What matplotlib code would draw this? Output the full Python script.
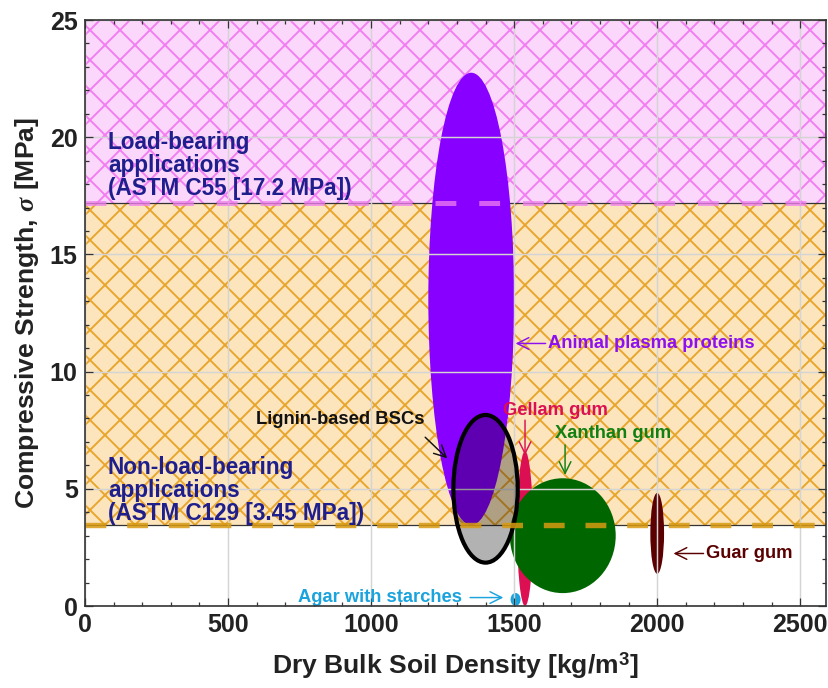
import matplotlib
matplotlib.use("Agg")
import matplotlib.pyplot as plt
from matplotlib.patches import Ellipse
from matplotlib.ticker import MultipleLocator

DPI = 180
S = 150 / DPI  # sizes below are tuned for 150 dpi

plt.rcParams['font.family'] = ['Liberation Sans', 'DejaVu Sans']
plt.rcParams['font.weight'] = 'bold'
plt.rcParams['lines.scale_dashes'] = False
plt.rcParams['hatch.linewidth'] = 0.9 * S
plt.rcParams['mathtext.fontset'] = 'custom'
plt.rcParams['mathtext.it'] = 'Liberation Serif:italic'
plt.rcParams['mathtext.rm'] = 'Liberation Sans'

# binders: centre density, centre strength, width, height
names = ['Animal plasma proteins', 'Lignin-based BSCs', 'Gellam gum',
         'Xanthan gum', 'Guar gum', 'Agar with starches']
x_center = [1350, 1400, 1538, 1670, 2000, 1505]
y_center = [13.1, 5.0, 3.3, 3.0, 3.1, 0.28]
x_width = [300, 225, 55, 370, 48, 35]
y_height = [19.3, 6.3, 6.6, 4.9, 3.45, 0.55]
colors = ['#8800FF', 'none', '#DC0F52', '#006600', '#5A0000', '#1AA3DC']

# label positions, arrow tails and arrow tips
label_xy = [(1620, 11.2), (892, 7.94), (1643, 8.36), (1846, 7.34), (2172, 2.24), (1318, 0.36)]
label_ha = ['left', 'center', 'center', 'center', 'left', 'right']
tail_xy = [(1610, 11.2), (1189, 7.2), (1538, 7.93), (1678, 6.87), (2162, 2.24), (1346, 0.36)]
tip_xy = [(1505, 11.2), (1266, 6.3), (1538, 6.44), (1678, 5.59), (2057, 2.24), (1462, 0.36)]
text_colors = ['#8C10F0', '#111111', '#DC0F52', '#128012', '#5A0000', '#1AA3DC']

# strength thresholds
astm_c55 = 17.2
astm_c129 = 3.45

fig = plt.figure(figsize=(829 / DPI, 688 / DPI), dpi=DPI)
ax = fig.add_axes([85 / 829, 82 / 688, 741 / 829, 586 / 688])

ax.set_xlim(0, 2590)
ax.set_ylim(0, 25)

# application zones
ax.axhspan(astm_c55, 25, facecolor='#FBD7FB', edgecolor='#F27CF2', hatch='xx', lw=0, zorder=0)
ax.axhspan(astm_c129, astm_c55, facecolor='#FCE4BD', edgecolor='#E8A52A', hatch='xx', lw=0, zorder=0)

ax.grid(True, color='#D4D4D4', lw=0.7 * S)
ax.set_axisbelow(False)
for gl in ax.get_xgridlines() + ax.get_ygridlines():
    gl.set_zorder(0.5)

ax.axhline(astm_c55, color='#333333', lw=0.6 * S, zorder=1)
ax.axhline(astm_c129, color='#333333', lw=0.6 * S, zorder=1)

for i in range(len(names)):
    if names[i] == 'Lignin-based BSCs':
        continue
    e = Ellipse((x_center[i], y_center[i]), x_width[i], y_height[i],
                facecolor=colors[i], edgecolor='none', zorder=2)
    ax.add_patch(e)

# lignin ellipse: translucent grey with black outline
i = names.index('Lignin-based BSCs')
ax.add_patch(Ellipse((x_center[i], y_center[i]), x_width[i], y_height[i],
                     facecolor=(0, 0, 0, 0.3), edgecolor='black', lw=2.0 * S, zorder=3))

# dashed threshold lines on top
l1, = ax.plot([0, 2590], [astm_c55, astm_c55], color='#F080F0', alpha=0.75, lw=2.4 * S, zorder=4)
l1.set_dashes((10 * S, 11 * S))
l2, = ax.plot([0, 2590], [astm_c129, astm_c129], color='#D89A10', alpha=0.85, lw=2.6 * S, zorder=4)
l2.set_dashes((10 * S, 10 * S))

for i in range(len(names)):
    ax.text(label_xy[i][0], label_xy[i][1], names[i], color=text_colors[i],
            fontsize=8.8 * S, fontweight='bold', ha=label_ha[i], va='center', zorder=6)
    ax.annotate('', xy=tip_xy[i], xytext=tail_xy[i], zorder=6,
                arrowprops=dict(arrowstyle='->', color=text_colors[i], lw=0.7 * S,
                                mutation_scale=14 * S, shrinkA=0, shrinkB=0))

ax.text(80, 20.25, 'Load-bearing\napplications\n(ASTM C55 [17.2 MPa])',
        color='#1E1E8C', fontsize=10.8 * S, fontweight='bold', va='top', ha='left',
        linespacing=1.0, zorder=6)
ax.text(80, 6.4, 'Non-load-bearing\napplications\n(ASTM C129 [3.45 MPa])',
        color='#1E1E8C', fontsize=10.8 * S, fontweight='bold', va='top', ha='left',
        linespacing=1.0, zorder=6)

ax.xaxis.set_major_locator(MultipleLocator(500))
ax.xaxis.set_minor_locator(MultipleLocator(100))
ax.yaxis.set_major_locator(MultipleLocator(5))
ax.yaxis.set_minor_locator(MultipleLocator(1))
ax.tick_params(which='both', direction='in', top=True, right=True, color='#333333',
               pad=3.5 * S)
ax.tick_params(which='major', length=4 * S, width=0.6 * S)
ax.tick_params(which='minor', length=2 * S, width=0.6 * S)
for lab in ax.get_xticklabels() + ax.get_yticklabels():
    lab.set_family(['Liberation Sans Narrow', 'Liberation Sans'])
    lab.set_fontsize(12 * S)
    lab.set_fontweight('bold')
    lab.set_color('#222222')
for s in ax.spines.values():
    s.set_color('#333333')
    s.set_linewidth(0.8 * S)
    s.set_zorder(7)

ax.set_xlabel('Dry Bulk Soil Density [kg/m$^\\mathrm{3}$]', fontsize=12.7 * S, fontweight='bold',
              color='#222222', labelpad=6 * S)
ax.set_ylabel('Compressive Strength, $\\mathit{\\sigma}$ [MPa]', fontsize=12.7 * S, fontweight='bold',
              color='#222222', labelpad=4 * S)

fig.savefig('out.png', dpi=DPI)
